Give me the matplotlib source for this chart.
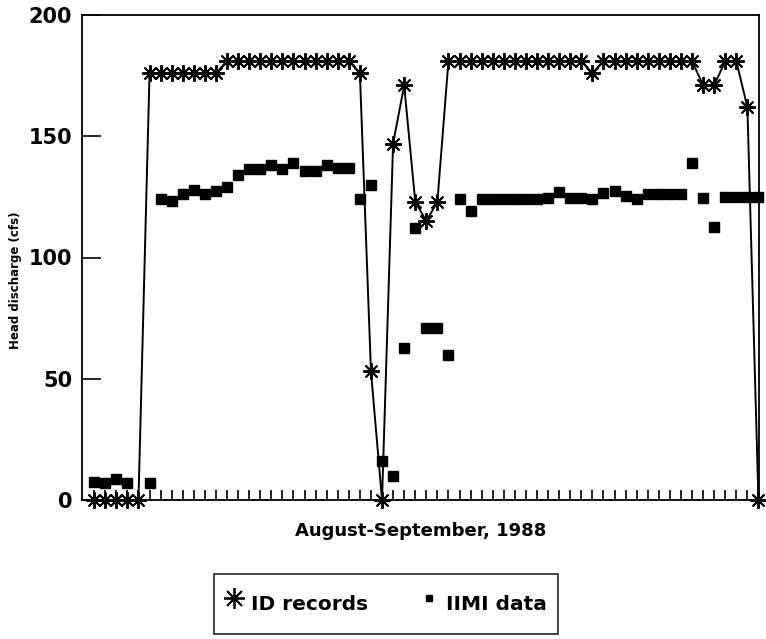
import matplotlib
matplotlib.use("Agg")
import matplotlib.pyplot as plt
import numpy as np
from matplotlib.lines import Line2D

plt.rcParams['font.family'] = ['DejaVu Sans']
plt.rcParams['font.weight'] = 'bold'

# one point per day, 1 Aug .. 30 Sep 1988
days = list(range(61))

# head discharge from ID (irrigation department) records, cfs
id_records = [0, 0, 0, 0, 0,
              176, 176, 176, 176, 176, 176, 176,
              181, 181, 181, 181, 181, 181, 181, 181, 181, 181, 181, 181,
              176, 53, 0, 147, 171, 123, 115, 123,
              181, 181, 181, 181, 181, 181, 181, 181, 181, 181, 181, 181, 181,
              176,
              181, 181, 181, 181, 181, 181, 181, 181, 181,
              171, 171, 181, 181, 162, 0]

# head discharge measured by IIMI, cfs (no reading on day 4)
iimi_data = [7.5, 7, 8.5, 7, np.nan, 7,
             124, 123.5, 126, 128, 126, 127.5, 129, 134, 136.5, 136.5,
             138, 136.5, 139, 135.5, 135.5, 138, 137, 137,
             124, 130, 16, 10, 62.5, 112, 71, 71, 60, 124, 119,
             124, 124, 124, 124, 124, 124, 124.5, 127, 124.5, 124.5, 124,
             126.5, 127.5, 125.5, 124, 126, 126, 126, 126, 139, 124.5,
             112.5, 125, 125, 125, 125]

y_ticks = [0, 50, 100, 150, 200]

fig = plt.figure(figsize=(7.66, 6.39), dpi=100)
ax = fig.add_axes([82/766, 1 - 500/639, 677/766, 485/639])

asterisk = (8, 2, 0)
ax.plot(days, id_records, color='black', lw=1.4, marker=asterisk, ms=12,
        mew=1.4, clip_on=False, zorder=3)
ax.plot(days, iimi_data, ls='none', marker='s', ms=6.5, color='black',
        clip_on=False, zorder=3)

ax.set_xlim(-1.1, 60.05)
ax.set_ylim(0, 200)
ax.set_xticks(days)
ax.tick_params(axis='x', direction='in', length=7, width=1.2, labelbottom=False)
ax.set_yticks(y_ticks)
ax.tick_params(axis='y', direction='in', length=14, width=1.2, labelsize=15, pad=7)
for sp in ax.spines.values():
    sp.set_linewidth(1.3)

ax.set_ylabel('Head discharge (cfs)', fontsize=8.5, fontweight='bold')
ax.yaxis.set_label_coords(-0.089, 0.454)
ax.set_xlabel('August-September, 1988', fontsize=13, fontweight='bold')
ax.xaxis.set_label_coords(0.5, -0.045)

# legend box under the axis
h1 = Line2D([], [], color='black', marker=asterisk, ms=15, mew=1.3, ls='none')
h2 = Line2D([], [], color='black', marker='s', ms=5, ls='none')
leg = fig.legend([h1, h2], ['ID records', 'IIMI data'], loc='center',
                 bbox_to_anchor=(386/766, 1 - 604/639), ncol=2, frameon=True,
                 fancybox=False, edgecolor='black',
                 prop={'weight': 'bold', 'size': 14.5},
                 handlelength=0.9, handletextpad=0.4, columnspacing=2.6,
                 borderpad=0.55, handleheight=2.5, borderaxespad=0)
leg.get_frame().set_linewidth(1.3)

fig.savefig('out.png', dpi=100)
